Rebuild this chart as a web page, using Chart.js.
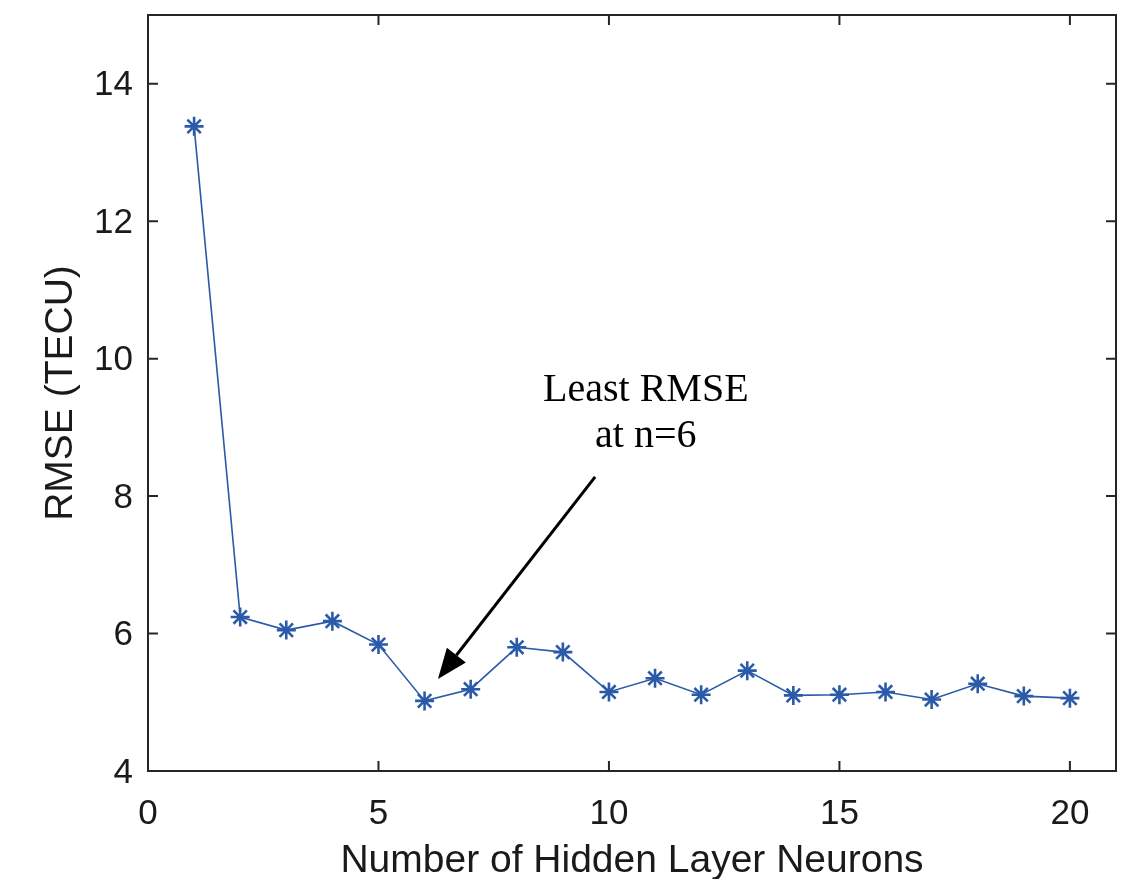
<!DOCTYPE html>
<html>
<head>
<meta charset="utf-8">
<script src="https://cdn.jsdelivr.net/npm/chart.js@4.4.1/dist/chart.umd.min.js"></script>
<style>
  body { margin: 0; background: #fff; }
  #wrap { width: 1140px; height: 879px; }
</style>
</head>
<body>
<div id="wrap"><canvas id="grafico" width="1140" height="879"></canvas></div>
<script>
// values
const neurons = [1, 2, 3, 4, 5, 6, 7, 8, 9, 10, 11, 12, 13, 14, 15, 16, 17, 18, 19, 20];
const rmse = [13.38, 6.24, 6.05, 6.18, 5.84, 5.02, 5.19, 5.80, 5.73, 5.15, 5.35, 5.11, 5.46, 5.10, 5.11, 5.15, 5.04, 5.27, 5.09, 5.06];
const xTicks = [0, 5, 10, 15, 20];
const yTicks = [4, 6, 8, 10, 12, 14];
const noteLines = ["Least RMSE", "at n=6"];
// arrow in data units: from tail to head
const arrowFrom = [9.7, 8.28];
const arrowTo = [6.29, 5.34];
const notePos = [10.8, 9.38];

const blu = "#2b5ba8";
const nero = "#262626";

// frame with inward ticks on all four sides, plus the annotation
const cornice = {
  id: "cornice",
  afterDatasetsDraw(chart) {
    const ctx = chart.ctx;
    const a = chart.chartArea;
    const sx = chart.scales.x;
    const sy = chart.scales.y;
    const tl = 10;
    ctx.save();
    ctx.strokeStyle = nero;
    ctx.lineWidth = 2;
    ctx.strokeRect(a.left, a.top, a.right - a.left, a.bottom - a.top);
    ctx.beginPath();
    xTicks.forEach(function (v) {
      const px = sx.getPixelForValue(v);
      ctx.moveTo(px, a.bottom);
      ctx.lineTo(px, a.bottom - tl);
      ctx.moveTo(px, a.top);
      ctx.lineTo(px, a.top + tl);
    });
    yTicks.forEach(function (v) {
      const py = sy.getPixelForValue(v);
      ctx.moveTo(a.left, py);
      ctx.lineTo(a.left + tl, py);
      ctx.moveTo(a.right, py);
      ctx.lineTo(a.right - tl, py);
    });
    ctx.stroke();

    // arrow
    const x0 = sx.getPixelForValue(arrowFrom[0]);
    const y0 = sy.getPixelForValue(arrowFrom[1]);
    const x1 = sx.getPixelForValue(arrowTo[0]);
    const y1 = sy.getPixelForValue(arrowTo[1]);
    const ang = Math.atan2(y1 - y0, x1 - x0);
    const hl = 30, hw = 12;
    const bx = x1 - hl * Math.cos(ang);
    const by = y1 - hl * Math.sin(ang);
    ctx.strokeStyle = "#000";
    ctx.fillStyle = "#000";
    ctx.lineWidth = 3;
    ctx.beginPath();
    ctx.moveTo(x0, y0);
    ctx.lineTo(bx, by);
    ctx.stroke();
    ctx.beginPath();
    ctx.moveTo(x1, y1);
    ctx.lineTo(bx + hw * Math.sin(ang), by - hw * Math.cos(ang));
    ctx.lineTo(bx - hw * Math.sin(ang), by + hw * Math.cos(ang));
    ctx.closePath();
    ctx.fill();

    // note text
    ctx.font = "40px 'Liberation Serif'";
    ctx.textAlign = "center";
    ctx.textBaseline = "alphabetic";
    const tx = sx.getPixelForValue(notePos[0]);
    const ty = sy.getPixelForValue(notePos[1]);
    ctx.fillText(noteLines[0], tx, ty);
    ctx.fillText(noteLines[1], tx, ty + 46);
    ctx.restore();
  },
};

const data = {
  datasets: [
    {
      label: "RMSE",
      data: neurons.map(function (n, i) {
        return { x: n, y: rmse[i] };
      }),
      borderColor: blu,
      backgroundColor: blu,
      borderWidth: 1.6,
      pointStyle: "star",
      pointRadius: 9.5,
      pointBorderWidth: 2.6,
      pointBorderColor: blu,
      tension: 0,
    },
  ],
};

const config = {
  type: "line",
  data: data,
  options: {
    responsive: false,
    animation: false,
    layout: { padding: { left: 0, top: 15, right: 24, bottom: 0 } },
    plugins: {
      legend: { display: false },
      tooltip: { enabled: false },
    },
    scales: {
      x: {
        type: "linear",
        min: 0,
        max: 21,
        afterFit: function (s) {
          s.height = 108;
          s.paddingLeft = 0;
          s.paddingRight = 0;
        },
        afterBuildTicks: function (s) { s.ticks = xTicks.map(function (v) { return { value: v }; }); },
        grid: { display: false, drawTicks: false },
        border: { display: false },
        ticks: {
          padding: 22,
          maxRotation: 0,
          color: "#1a1a1a",
          font: { family: "'Liberation Sans'", size: 35 },
        },
        title: {
          display: true,
          text: "Number of Hidden Layer Neurons",
          color: "#1a1a1a",
          font: { family: "'Liberation Sans'", size: 39, lineHeight: 1 },
          padding: { top: 0, bottom: -2 },
        },
      },
      y: {
        type: "linear",
        min: 4,
        max: 15,
        afterFit: function (s) {
          s.width = 148;
          s.paddingTop = 0;
          s.paddingBottom = 0;
        },
        afterBuildTicks: function (s) { s.ticks = yTicks.map(function (v) { return { value: v }; }); },
        grid: { display: false, drawTicks: false },
        border: { display: false },
        ticks: {
          padding: 15,
          labelOffset: 2,
          color: "#1a1a1a",
          font: { family: "'Liberation Sans'", size: 35 },
        },
        title: {
          display: true,
          text: "RMSE (TECU)",
          color: "#1a1a1a",
          font: { family: "'Liberation Sans'", size: 39, lineHeight: 1 },
          padding: { top: 42, bottom: 0 },
        },
      },
    },
  },
  plugins: [cornice],
};

const grafico = new Chart(document.getElementById("grafico"), config);
</script>
</body>
</html>
